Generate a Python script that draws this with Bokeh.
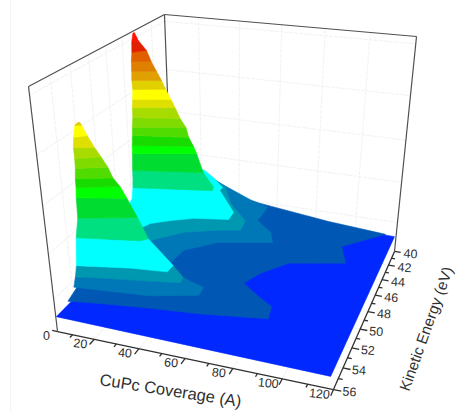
import numpy as np
from bokeh.plotting import figure
from bokeh.models import Range1d, Span
from bokeh.embed import file_html
from bokeh.resources import INLINE
from bokeh.core.properties import value

# ---------- axis ranges and ticks ----------
cov_min, cov_max = 3.0, 120.0
ke_front, ke_back = 56.0, 40.0
z_min, z_max = 0.0, 1.0
cov_major = [20, 40, 60, 80, 100, 120]
cov_minor = [10, 30, 50, 70, 90, 110]
ke_major = [40, 42, 44, 46, 48, 50, 52, 54, 56]
ke_minor = [41, 43, 45, 47, 49, 51, 53, 55]
grid_cov = [20, 40, 60, 80, 100]
grid_ke = [42, 44, 46, 48, 50, 52, 54]
grid_z = [0.15, 0.35, 0.55, 0.75, 0.97]

# ---------- contour colours ----------
C_FLOOR = "#0028FF"; C_DARK = "#0058B4"; C_BLUE2 = "#0078B8"; C_TEAL = "#0098B0"; C_CYAN = "#00FFFF"
C_SEA = "#00E080"; C_G1 = "#00DC30"; C_LIME = "#00FF00"; C_G2 = "#18DC00"; C_G3 = "#50DC00"; C_G4 = "#80DC00"
C_G5 = "#A8DC00"; C_OL = "#E0E000"; C_YEL = "#FFFF00"; C_OL2 = "#E0D000"; C_O1 = "#E0A000"; C_O2 = "#E08000"
C_O3 = "#E06000"; C_R1 = "#E02000"; C_R2 = "#FF1000"

# ---------- low-intensity regions of the surface: level, colour, coverage, kinetic energy ----------
floor_level, floor_cov, floor_ke = 0.055, [1.8, 118.6, 118.6, -0.5], [55.7, 56.0, 39.4, 38.6]
dark_level = 0.06
dark_cov = [0.6, 14.4, 35.9, 57.0, 77.4, 84.6, 82.9, 74.4, 65.3, 69.5, 78.5, 103.0, 97.2, 114.2, 84.5, 52.2, 39.5, 21.7, -3.1, -13.8]
dark_ke = [54.1, 53.7, 53.2, 52.8, 52.2, 52.0, 50.7, 49.8, 48.7, 47.2, 45.4, 44.2, 42.1, 39.4, 38.8, 37.8, 37.4, 36.0, 33.6, 43.5]
blue2_level = 0.10
blue2_cov = [8.9, 30.7, 31.7, 43.5, 67.6, 63.5, 53.4, 53.3, 42.0, 24.1, -0.4, -5.8]
blue2_ke = [49.6, 48.8, 47.0, 45.3, 44.1, 42.8, 41.4, 39.2, 38.4, 36.8, 34.4, 40.9]
teal_level = 0.143
teal_cov = [12.8, 18.0, 28.1, 42.2, 52.3, 50.9, 37.4, 28.1, 3.8, -6.2]
teal_ke = [49.2, 47.4, 45.8, 44.8, 44.3, 42.9, 40.7, 38.3, 35.8, 42.3]
cyan_level = 0.187
cyan_cov = [4.0, 12.1, 13.7, 21.2, 30.4, 46.2, 45.8, 30.3, 30.4, 21.5, 13.6, 4.0, -15.7, -6.4, -5.2]
cyan_ke = [48.0, 47.1, 46.5, 45.7, 44.9, 44.3, 43.2, 40.2, 39.7, 38.3, 37.3, 36.8, 40.7, 43.5, 44.2]

# ---------- back ridge: contour lines along the face, one per level ----------
ridge2_levels = [0.304, 0.379, 0.455, 0.495, 0.535, 0.575, 0.615, 0.66, 0.70, 0.74, 0.78, 0.82, 0.865, 0.905, 0.95, 1.0]
ridge2_colors = [C_SEA, C_G1, C_LIME, C_G2, C_G3, C_G4, C_G5, C_OL, C_YEL, C_OL2, C_O1, C_O2, C_O3, C_R1, C_R2]
ridge2_cov = [[1.0, 37.1, 35.9], [0.1, 32.1], [-0.2, 27.7], [0.3, 27.2], [-0.4, 24.9], [0.2, 23.0], [-0.4, 20.6], [-0.3, 17.9],
              [0.4, 16.7], [0.0, 13.9], [-0.2, 12.4], [0.0, 10.5], [0.5, 8.8], [1.0, 5.7], [1.6, 3.0], [4.6, 4.6]]
ridge2_ke = [[45.2, 43.9, 43.3], [44.9, 43.7], [44.7, 43.3], [44.8, 43.6], [44.5, 43.6], [44.6, 43.4], [44.3, 43.5], [44.3, 43.4],
             [44.4, 43.6], [44.2, 43.5], [44.2, 43.6], [44.2, 43.7], [44.3, 43.9], [44.3, 43.6], [44.4, 43.9], [45.0, 44.8]]

# ---------- front ridge ----------
ridge1_levels = [0.10, 0.143, 0.187, 0.30, 0.375, 0.455, 0.495, 0.535, 0.575, 0.615, 0.66, 0.70, 0.745, 0.757]
ridge1_colors = [C_BLUE2, C_TEAL, C_CYAN, C_SEA, C_G1, C_LIME, C_G2, C_G3, C_G4, C_G5, C_OL, C_YEL, C_OL2]
ridge1_cov = [[1.0, 34.5, 53.4, 52.9], [1.4, 33.0, 45.2, 44.7], [1.5, 24.1, 39.7, 39.9], [0.9, 27.3, 29.6], [0.8, 23.9], [-0.3, 19.7],
              [-0.4, 16.1], [-0.3, 13.9], [-0.3, 11.5], [-0.6, 8.7], [-0.7, 7.3], [-0.6, 3.6], [-0.4, 2.3], [0.8, 1.6]]
ridge1_ke = [[53.4, 52.8, 51.8, 50.9], [53.2, 52.2, 51.8, 51.2], [53.0, 52.2, 51.9, 51.1], [52.6, 51.7, 51.3], [52.2, 50.95], [51.9, 51.0],
             [51.8, 50.8], [51.8, 51.0], [51.7, 50.9], [51.6, 50.9], [51.6, 51.2], [51.5, 51.0], [51.3, 51.2], [51.3, 51.2]]

# ---------- projection of the 3D box onto the page ----------
box_data = [(cov_min, ke_front, 0), (cov_max, ke_front, 0), (cov_max, ke_back, 0), (cov_min, ke_front, 1), (cov_min, ke_back, 1), (cov_max, ke_back, 1)]
box_page = [(57, 331), (333, 389), (394, 251), (28, 86), (164, 14), (416, 36)]

def unit(c, k, z):
    return (c - cov_min) / (cov_max - cov_min), (ke_front - k) / (ke_front - ke_back), z

rows = []
for (c, k, z), (px, py) in zip(box_data, box_page):
    u, v, w = unit(c, k, z)
    rows.append([u, v, w, 1, 0, 0, 0, 0, -px * u, -px * v, -px * w, -px])
    rows.append([0, 0, 0, 0, u, v, w, 1, -py * u, -py * v, -py * w, -py])
CAM = np.linalg.svd(np.array(rows))[2][-1].reshape(3, 4)

def project(c, k, z):
    u, v, w = unit(c, k, z)
    h = CAM @ np.array([u, v, w, 1.0])
    return float(h[0] / h[2]), float(h[1] / h[2])

def path(cov, ke, z):
    pts = [project(c, k, zz) for c, k, zz in zip(cov, ke, z)]
    return [a for a, _ in pts], [b for _, b in pts]

p = figure(width=457, height=412, x_range=Range1d(0, 457), y_range=Range1d(412, 0),
           output_backend="svg", toolbar_location=None, min_border=0)
p.axis.visible = False
p.grid.visible = False
p.outline_line_color = None
p.add_layout(Span(location=10, dimension="height", line_color="#F4F4F4", line_width=1))

# grid
GRID = dict(line_color="#F3F3F3", line_width=1.2, line_dash="4 1")
def seg(c, k, z, **kw):
    xs, ys = path(c, k, z)
    p.line(xs, ys, **kw)
for c in grid_cov:
    seg([c, c], [ke_back, ke_back], [0, 1], **GRID)
    seg([c, c], [ke_front, ke_back], [0, 0], **GRID)
for k in grid_ke:
    seg([cov_min, cov_min], [k, k], [0, 1], **GRID)
    seg([cov_min, cov_max], [k, k], [0, 0], **GRID)
for z in grid_z:
    seg([cov_min, cov_max], [ke_back, ke_back], [z, z], **GRID)
    seg([cov_min, cov_min], [ke_front, ke_back], [z, z], **GRID)

# box
BOX = dict(line_color="#505050", line_width=1.2)
seg([cov_min, cov_min], [ke_back, ke_back], [0, 1], **BOX)
seg([cov_min, cov_min], [ke_front, ke_front], [0, 1], **BOX)
seg([cov_max, cov_max], [ke_back, ke_back], [0, 1], **BOX)
seg([cov_min, cov_min], [ke_front, ke_back], [1, 1], **BOX)
seg([cov_min, cov_max], [ke_back, ke_back], [1, 1], **BOX)
AX = dict(line_color="#303030", line_width=1.3)
seg([cov_min, cov_max], [ke_front, ke_front], [0, 0], **AX)
seg([cov_max, cov_max], [ke_front, ke_back], [0, 0], **AX)
for c in cov_major:
    seg([c, c], [ke_front, ke_front + 0.55], [0, 0], **AX)
for c in cov_minor:
    seg([c, c], [ke_front, ke_front + 0.3], [0, 0], **AX)
for k in ke_major:
    seg([cov_max, cov_max + 3], [k, k], [0, 0], **AX)
for k in ke_minor:
    seg([cov_max, cov_max + 1.7], [k, k], [0, 0], **AX)
seg([cov_min, cov_min - 2.5], [ke_front, ke_front], [0, 0], **AX)

# surface
pxs, pys, cols = [], [], []
def add(xs, ys, col):
    pxs.append(xs); pys.append(ys); cols.append(col)
for cov, ke, lev, col in [(floor_cov, floor_ke, floor_level, C_FLOOR), (dark_cov, dark_ke, dark_level, C_DARK),
                          (blue2_cov, blue2_ke, blue2_level, C_BLUE2), (teal_cov, teal_ke, teal_level, C_TEAL),
                          (cyan_cov, cyan_ke, cyan_level, C_CYAN)]:
    xs, ys = path(cov, ke, [lev] * len(cov))
    add(xs, ys, col)
for levels, colors, cc, kk in [(ridge2_levels, ridge2_colors, ridge2_cov, ridge2_ke),
                               (ridge1_levels, ridge1_colors, ridge1_cov, ridge1_ke)]:
    for i, col in enumerate(colors):
        x1, y1 = path(cc[i], kk[i], [levels[i]] * len(cc[i]))
        x2, y2 = path(cc[i + 1], kk[i + 1], [levels[i + 1]] * len(cc[i + 1]))
        add(x1 + x2[::-1], y1 + y2[::-1], col)
p.patches(pxs, pys, fill_color=cols, line_color=cols, line_width=0.6)

# texts
FONT = value("Liberation Sans")
lab = dict(text_font=FONT, text_color="#303030", text_align="center", text_baseline="middle")
cov_labels = [str(c) for c in cov_major]
ke_labels = [str(k) for k in ke_major]
tx, ty = path(cov_major, [ke_front] * 6, [0] * 6)
p.text([a - 14 for a in tx], [b + 4 for b in ty], cov_labels, text_font_size="12.5px", angle=-0.1, **lab)
kx, ky = path([cov_max] * 9, ke_major, [0] * 9)
p.text([a + 16 for a in kx], [b + 2 for b in ky], ke_labels, text_font_size="12.5px", angle=-0.06, **lab)
zx, zy = project(cov_min, ke_front, 0)
p.text([zx - 11], [zy + 4], ["0"], text_font_size="12.5px", **lab)
mx, my = project((cov_min + cov_max) / 2 + 0, ke_front, 0)
p.text([mx - 18], [my + 31], ["CuPc Coverage (A)"], text_font_size="16.5px", angle=-0.155, **lab)
gx, gy = project(cov_max, (ke_front + ke_back) / 2, 0)
p.text([gx + 58], [gy + 17], ["Kinetic Energy (eV)"], text_font_size="15.2px", angle=1.227, **lab)

open("out.html", "w").write(file_html(p, INLINE))
